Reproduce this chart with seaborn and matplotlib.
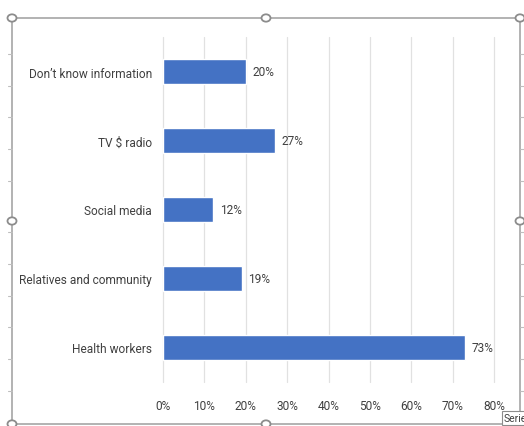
import matplotlib
matplotlib.use("Agg")
import matplotlib.pyplot as plt
import seaborn as sns
import pandas as pd
from matplotlib.patches import Rectangle, Circle
from matplotlib.lines import Line2D

# data
categories = ["Don\u2019t know information", "TV $ radio", "Social media",
              "Relatives and community", "Health workers"]
shares = [0.20, 0.27, 0.12, 0.19, 0.73]
xticks = [0.0, 0.1, 0.2, 0.3, 0.4, 0.5, 0.6, 0.7, 0.8]

df = pd.DataFrame({"source": categories, "share": shares})

sns.set_style("white")
plt.rcParams["font.family"] = ["Roboto", "DejaVu Sans"]
plt.rcParams["text.parse_math"] = False
text_col = "#404040"
fs = 8.6

W, H = 524, 427
fig = plt.figure(figsize=(W / 100, H / 100), dpi=100)
ax = fig.add_axes([163 / W, 1 - 383 / H, (494 - 163) / W, (383 - 38) / H])

sns.barplot(data=df, x="share", y="source", order=categories, color="#4472C4",
            width=0.35, saturation=1, ax=ax, zorder=3)

ax.set_xlim(0, 0.8)
ax.set_xticks(xticks)
ax.set_xticklabels([f"{int(round(t * 100))}%" for t in xticks])
ax.xaxis.grid(True, color="#E1E1E1", linewidth=0.9, zorder=0)
for gl in ax.get_xgridlines():
    gl.set_clip_on(False)
ax.yaxis.grid(False)
sns.despine(ax=ax, left=True, bottom=True, top=True, right=True)
ax.tick_params(axis="both", length=0, labelsize=fs, colors=text_col)
ax.tick_params(axis="x", pad=12)
ax.tick_params(axis="y", pad=8)
ax.set_xlabel("")
ax.set_ylabel("")

for i, v in enumerate(shares):
    ax.annotate(f"{int(round(v * 100))}%", (v, i), xytext=(5, 0),
                textcoords="offset points", va="center", ha="left",
                fontsize=fs, color=text_col)

# chart frame with selection handles
def px(x, y):
    return x / W, 1 - y / H

left, top, right, bottom = 12, 19, 520, 425
for ty in [55, 87, 118, 150, 182, 233, 265, 297, 328, 360, 392]:
    for xa, xb in [(left - 4, left), (right, right + 4)]:
        (ax_, ay), (bx, by) = px(xa, ty), px(xb, ty)
        fig.lines.append(Line2D([ax_, bx], [ay, by], transform=fig.transFigure,
                                color="#BFBFBF", linewidth=0.8))

x0, y0 = px(left, top)
x1, y1 = px(right, bottom)
fig.patches.append(Rectangle((x0, y1), x1 - x0, y0 - y1, transform=fig.transFigure,
                             fill=False, edgecolor="#A6A6A6", linewidth=1.2))
mid_x, mid_y = (left + right) / 2, (top + bottom) / 2
for hx, hy in [(left, top), (mid_x, top), (right, top), (left, mid_y), (right, mid_y),
               (left, bottom), (mid_x, bottom), (right, bottom)]:
    cx, cy = px(hx, hy)
    fig.patches.append(Circle((cx, cy), 4.5 / W, transform=fig.transFigure,
                              facecolor="white", edgecolor="#8C8C8C", linewidth=1.3))

fig.text(504 / W, 1 - 419 / H, "Series", fontsize=7.5, color=text_col,
         va="center", ha="left",
         bbox=dict(boxstyle="square,pad=0.2", facecolor="white", edgecolor="#8C8C8C", linewidth=0.8))

fig.savefig("out.png", dpi=100)
